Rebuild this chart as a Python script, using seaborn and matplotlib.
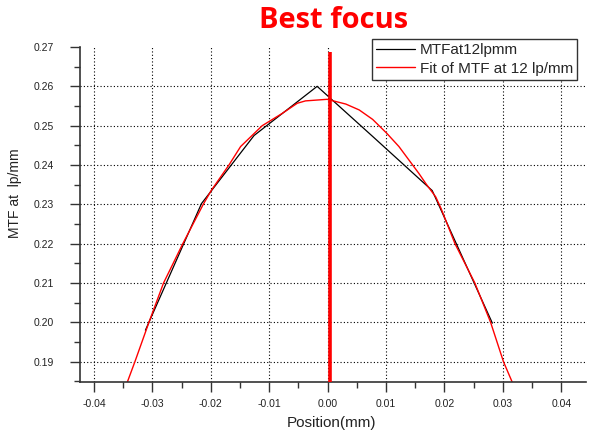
import matplotlib
matplotlib.use("Agg")
import matplotlib.pyplot as plt
import seaborn as sns
import pandas as pd
from matplotlib.ticker import MultipleLocator

# ---- data ----
mtf_x = [-0.0312, -0.0216, -0.0126, -0.0018, 0.0079, 0.0179, 0.0282]
mtf_y = [0.1980, 0.2302, 0.2475, 0.2600, 0.2470, 0.2335, 0.1998]

fit_x = [-0.0343, -0.0330, -0.0306, -0.0281, -0.0248, -0.0213, -0.0199, -0.0169,
         -0.0149, -0.0112, -0.0078, -0.0052, -0.0038, -0.0001, 0.0031, 0.0054,
         0.0077, 0.0101, 0.0122, 0.0139, 0.0156, 0.0168, 0.0185, 0.0194,
         0.0218, 0.0252, 0.0279, 0.0301, 0.0316]
fit_y = [0.1848, 0.1900, 0.2000, 0.2100, 0.2200, 0.2300, 0.2336, 0.2400,
         0.2447, 0.2500, 0.2531, 0.2557, 0.2563, 0.2567, 0.2555, 0.2540,
         0.2516, 0.2481, 0.2447, 0.2413, 0.2379, 0.2353, 0.2319, 0.2290,
         0.2200, 0.2100, 0.2000, 0.1900, 0.1848]

best_focus_x = [0.0004]
best_focus_top = [0.2688]

x_ticks = [-0.04, -0.03, -0.02, -0.01, 0.00, 0.01, 0.02, 0.03, 0.04]
y_ticks = [0.19, 0.20, 0.21, 0.22, 0.23, 0.24, 0.25, 0.26, 0.27]

label_mtf = "MTFat12lpmm"
label_fit = "Fit of MTF at 12 lp/mm"

df_mtf = pd.DataFrame({"x": mtf_x, "y": mtf_y})
df_fit = pd.DataFrame({"x": fit_x, "y": fit_y})

sns.set_style("ticks")
plt.rcParams["font.family"] = ["Liberation Sans", "DejaVu Sans"]

fig = plt.figure(figsize=(5.93, 4.32), dpi=100)
ax = fig.add_axes([80 / 593, 1 - 382 / 432, (586 - 80) / 593, (382 - 47) / 432])

XMIN, XMAX = -0.0424, 0.04423
YMIN, YMAX = 0.18484, 0.27

sns.lineplot(data=df_mtf, x="x", y="y", ax=ax, color="black", lw=0.9,
             sort=False, estimator=None, label=label_mtf, legend=False)
sns.lineplot(data=df_fit, x="x", y="y", ax=ax, color="#ff0000", lw=1.0,
             sort=False, estimator=None, label=label_fit, legend=False)
ax.vlines(best_focus_x, YMIN, best_focus_top, color="#ff0000", lw=2.6, zorder=5)

ax.set_xlim(XMIN, XMAX)
ax.set_ylim(YMIN, YMAX)
ax.set_xticks(x_ticks)
ax.set_yticks(y_ticks)
ax.set_xticklabels([f"{v:.2f}" for v in x_ticks])
ax.set_yticklabels([f"{v:.2f}" for v in y_ticks])
ax.xaxis.set_minor_locator(MultipleLocator(0.005))
ax.yaxis.set_minor_locator(MultipleLocator(0.005))

for s in ["top", "right"]:
    ax.spines[s].set_visible(False)
for s in ["left", "bottom"]:
    ax.spines[s].set_color("#333333")
    ax.spines[s].set_linewidth(1.2)

ax.tick_params(axis="both", which="major", length=7, width=1.0, color="#333333",
               labelsize=7.5, labelcolor="#222222")
ax.tick_params(axis="both", which="minor", length=4, width=1.0, color="#333333")
ax.tick_params(axis="y", which="major", pad=12)
ax.tick_params(axis="x", which="major", pad=5)

ax.grid(True, which="major", color="black", linestyle=(0, (1, 2)), linewidth=0.8)
ax.yaxis.get_gridlines()[-1].set_visible(False)

ax.set_xlabel("Position(mm)", fontsize=11, color="#222222")
ax.set_ylabel("MTF at  lp/mm", fontsize=10, color="#222222")
ax.xaxis.set_label_coords((331.7 - 80) / 506, -(423 - 382) / 335)
ax.yaxis.set_label_coords(-(80 - 15) / 506, (382 - 193) / 335)
ax.xaxis.label.set_va("center")
ax.yaxis.label.set_va("center")

fig.text(334 / 593, 1 - 20 / 432, "Best focus", color="#ff0000", fontsize=21,
         fontweight="bold", ha="center", va="center", family=["Open Sans", "DejaVu Sans"])

handles, labels = ax.get_legend_handles_labels()
leg = fig.legend(handles, labels, loc="upper left",
                 bbox_to_anchor=(371.7 / 593, 1 - 39.3 / 432),
                 fontsize=11, frameon=True, fancybox=False, framealpha=1,
                 edgecolor="#333333", handlelength=2.6, handletextpad=0.3,
                 borderpad=0.25, labelspacing=0.3, borderaxespad=0)
leg.get_frame().set_linewidth(1.0)

fig.savefig("out.png", dpi=100)
